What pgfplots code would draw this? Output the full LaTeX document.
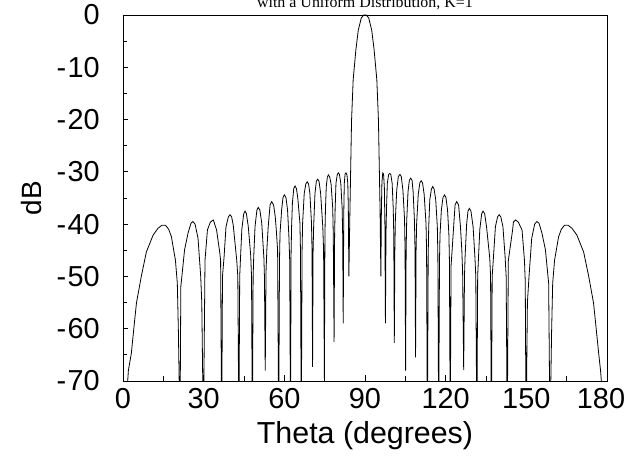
\documentclass[border=0pt]{standalone}
\usepackage{fontspec}
\setmainfont{Liberation Sans}
\newfontfamily\timesfont{Liberation Serif}
\usepackage{pgfplots}
\usepackage{pgfplotstable}
\pgfplotsset{compat=1.18}
\pgfplotstableread{
x y
0 -80
1.5 -72
2.0 -68
3.1 -64.7
4.1 -59.6
5.0 -55.1
6.8 -50.0
8.7 -45.3
11.2 -42.1
13.0 -40.8
14.5 -40.2
15.8 -40.2
17.0 -41.0
18.0 -42.4
19.5 -46.9
20.2 -51.3
20.6 -60.5
21.2 -80
21.5 -52
22.9 -44.9
24.2 -41.7
25.3 -39.8
26.0 -39.5
26.8 -40.0
27.9 -42.7
28.9 -50
29.3 -55
29.9 -80
30.5 -46.9
31.4 -41.1
32.5 -39.6
33.6 -39.2
34.8 -41.1
36.0 -45.5
36.3 -47
36.7 -80
37.0 -50
37.6 -46.2
38.3 -40.5
39.2 -38.6
39.8 -38.2
40.4 -38.6
41.0 -40.2
42.3 -46.9
42.7 -50
43.1 -80
43.4 -50
43.7 -46.5
44.2 -41
44.9 -38
45.4 -37.5
45.9 -38
46.6 -40.5
47.5 -46
47.8 -50
48.1 -80
48.4 -50
48.6 -46.5
49.1 -40.5
49.8 -37.3
50.3 -36.8
50.9 -37.3
51.6 -39.8
52.4 -46.5
52.6 -50
52.9 -68
53.2 -49
53.5 -44.9
54.0 -40.5
54.7 -36.3
55.3 -35.7
56.0 -36.3
56.6 -38.5
57.0 -41
57.5 -45
57.9 -80
58.2 -47
58.4 -41.7
59.0 -37.3
59.5 -34.9
60.0 -34.4
60.6 -34.9
61.2 -37.3
61.7 -42.4
62.0 -47
62.3 -80
62.5 -46
62.7 -40.5
63.0 -36
63.5 -33.2
64.0 -32.7
64.5 -33.2
65.0 -35
65.8 -39.8
66.0 -45
66.3 -80
66.6 -45
66.8 -39.8
67.4 -34.1
68.0 -32.3
68.5 -31.9
69.0 -32.3
69.5 -34.1
70.1 -39.8
70.3 -45
70.5 -67.3
70.7 -45
70.9 -40.5
71.4 -34.1
71.9 -31.8
72.4 -31.4
72.9 -31.8
73.5 -34.1
74.3 -40.5
74.6 -45
74.9 -69.5
75.1 -42
75.3 -37
75.6 -32.8
76.0 -31.0
76.4 -30.6
76.9 -31.0
77.4 -32.4
78.0 -37
78.2 -42
78.5 -62.5
78.7 -42
78.9 -37
79.2 -32.2
79.7 -30.5
80.1 -30.2
80.5 -30.5
81.0 -32.2
81.5 -37
81.7 -42
81.9 -59
82.1 -38
82.3 -32.2
82.6 -30.4
82.9 -30.2
83.3 -30.6
83.6 -32.2
83.8 -37
84.0 -50
84.4 -37.3
85.0 -20.1
85.6 -12.4
86.6 -6.7
87.5 -2.9
88.6 -0.6
89.5 0
90.5 0
91.4 -0.6
92.5 -2.9
93.4 -6.7
94.4 -12.4
95.0 -20.1
95.6 -37.3
95.9 -50
96.1 -37
96.3 -32
96.6 -30.2
96.9 -30.4
97.2 -33
97.4 -40
97.6 -59
97.8 -42
98.0 -37
98.3 -32.2
98.8 -30.5
99.2 -30.3
99.6 -30.5
100.1 -32.2
100.5 -37
100.7 -42
100.9 -62.7
101.1 -45
101.3 -39
101.8 -33.5
102.4 -30.9
103.0 -30.5
103.5 -30.9
104.1 -33.5
104.7 -39
104.9 -45
105.1 -68
105.3 -45
105.5 -39.5
106.0 -33.8
106.5 -31.6
107.0 -31.2
107.5 -31.6
107.9 -33.8
108.4 -39.5
108.6 -45
108.8 -65.5
109.0 -45
109.2 -40
109.8 -34.3
110.4 -32.1
110.9 -31.7
111.4 -32.1
112.0 -34.3
112.7 -40
112.9 -45
113.2 -80
113.5 -46
113.7 -40.5
114.1 -35.3
114.7 -33.3
115.2 -32.8
115.7 -33.3
116.3 -35.3
116.9 -40.5
117.1 -46
117.4 -80
117.7 -47
117.9 -42
118.4 -37.3
119.0 -34.9
119.6 -34.4
120.1 -34.9
120.7 -37.3
121.2 -42
121.4 -47
121.7 -80
122.0 -48
122.4 -45
122.9 -41
123.5 -36.3
124.1 -35.7
124.8 -36.3
125.5 -40.5
126.0 -44.9
126.3 -49
126.7 -67.9
127.0 -50
127.2 -46.5
127.8 -40
128.3 -37.5
128.8 -37.0
129.4 -37.5
130.2 -40.5
130.9 -46.5
131.2 -50
131.6 -80
131.9 -50
132.2 -46.5
132.7 -41
133.4 -38
133.9 -37.5
134.5 -38
135.2 -40.5
136.4 -46.5
136.7 -50
137.0 -80
137.3 -50
137.7 -46.9
138.5 -40.5
139.3 -38.6
139.9 -38.2
140.5 -38.6
141.3 -40.5
142.1 -46.2
142.5 -50
142.9 -80
143.3 -47
143.7 -45.5
144.9 -41.1
145.2 -39.6
146.0 -39.2
147.0 -39.6
148.4 -41.1
149.3 -46.9
149.6 -51
149.9 -80
150.4 -55
151.0 -50
152.0 -42.7
153.1 -40.0
153.9 -39.5
154.7 -39.8
155.8 -41.7
157.1 -44.9
158.3 -51.3
158.8 -80
159.4 -60.5
159.8 -51.3
160.5 -46.9
162.0 -42.4
163.0 -41.0
164.2 -40.2
165.5 -40.2
167.0 -40.8
168.8 -42.1
171.3 -45.3
173.2 -50.0
175.0 -55.1
175.9 -59.6
176.9 -64.7
177.6 -68
178.2 -72
180 -80
}\pattern
\begin{document}
\begin{tikzpicture}
\begin{axis}[
  scale only axis,
  width=484bp, height=366bp,
  xmin=0, xmax=180, ymin=-70, ymax=0,
  xtick={0,30,60,90,120,150,180},
  xticklabels={0,30,60,90,120,150,\kern-12bp 180},
  ytick={-70,-60,-50,-40,-30,-20,-10,0},
  yticklabels={-\kern1.5bp 70,-\kern1.5bp 60,-\kern1.5bp 50,-\kern1.5bp 40,-\kern1.5bp 30,-\kern1.5bp 20,-\kern1.5bp 10,0},
  minor x tick num=1, minor y tick num=1,
  tick pos=left, tick align=inside,
  major tick length=5.5bp, minor tick length=4.5bp,
  every tick/.style={black, line width=0.8bp},
  axis line style={black, line width=0.8bp},
  tick label style={font=\fontsize{29}{32}\selectfont, inner sep=0pt},
  xticklabel style={anchor=north, yshift=-7bp},
  yticklabel style={anchor=east, xshift=-23bp},
]
\addplot[black, line width=0.8bp, mark=none] table[x=x, y=y] {\pattern};
\end{axis}
\node[anchor=base, inner sep=0pt, font=\fontsize{30.5}{34}\selectfont] at (242bp,-62bp) {Theta (degrees)};
\node[anchor=base, inner sep=0pt, rotate=90, font=\fontsize{28}{32}\selectfont] at (-81bp,183bp) {dB};
\node[anchor=base, inner sep=0pt, font=\fontsize{16}{19}\selectfont\timesfont] at (242bp,373bp) {with a Uniform Distribution, K=1};
\pgfresetboundingbox
\useasboundingbox (-123bp,-76bp) rectangle (502bp,381bp);
\end{tikzpicture}
\end{document}
